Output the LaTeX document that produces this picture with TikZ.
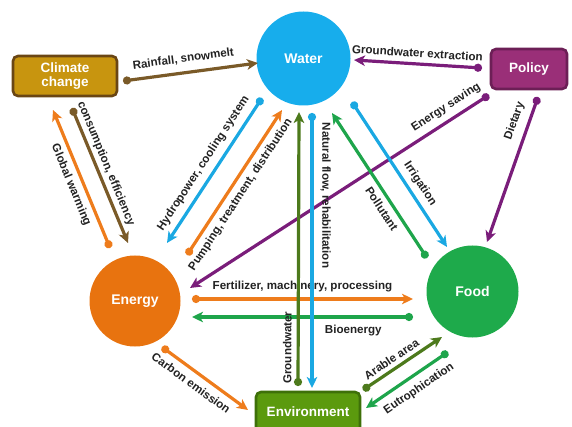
\documentclass[tikz,border=0pt]{standalone}
\usepackage{fontspec}
\setmainfont{Liberation Sans}
\usetikzlibrary{arrows.meta,calc}

\definecolor{waterc}{HTML}{17ADEC}
\definecolor{energyc}{HTML}{E8730F}
\definecolor{foodc}{HTML}{1EAA4B}
\definecolor{climfill}{HTML}{C8950F}
\definecolor{climdraw}{HTML}{6A4614}
\definecolor{polfill}{HTML}{9A2F78}
\definecolor{poldraw}{HTML}{6C1F56}
\definecolor{envfill}{HTML}{5B9A0E}
\definecolor{envdraw}{HTML}{3E7009}
\definecolor{lblue}{HTML}{1AA8E2}
\definecolor{lorange}{HTML}{EE7C1C}
\definecolor{lgreen}{HTML}{1EA54B}
\definecolor{lbrown}{HTML}{7A5A28}
\definecolor{lpurple}{HTML}{7A1D7A}
\definecolor{ldkgreen}{HTML}{4D7A1C}
\definecolor{labc}{HTML}{222222}

\begin{document}
\begin{tikzpicture}[x=1pt,y=-1pt,
  hub/.style={circle, inner sep=0pt, text=white,
    font=\fontsize{14}{16}\selectfont\bfseries},
  sector/.style={rectangle, rounded corners=5pt, line width=2.6pt, inner sep=0pt,
    text=white, align=center, font=\fontsize{13.5}{15}\selectfont\bfseries},
  link/.style={line width=3.2pt,
    {Circle[length=8pt]}-{Stealth[length=11pt,width=10.5pt,inset=3pt]}},
  lab/.style={sloped, inner sep=1pt, text=labc,
    font=\fontsize{11.6}{13}\selectfont\bfseries}]

\useasboundingbox (0,0) rectangle (572,427);
\clip (0,0) rectangle (572,427);

% sector nodes
\node[hub, fill=waterc, minimum size=94pt] (water) at (303.5,58.5) {Water};
\node[hub, fill=energyc, minimum size=91pt] (energy) at (135,301) {Energy};
\node[hub, fill=foodc, minimum size=92pt] (food) at (472.5,291.5) {Food};
\node[sector, fill=climfill, draw=climdraw, minimum width=104pt, minimum height=40pt]
  (climate) at (65,76) {Climate\\[-1pt]change};
\node[sector, fill=polfill, draw=poldraw, minimum width=76pt, minimum height=40pt]
  (policy) at (529,69) {Policy};
\node[sector, fill=envfill, draw=envdraw, minimum width=104pt, minimum height=40pt]
  (env) at (308,412) {Environment};

% climate and policy drivers
\draw[link, lbrown] ($(climate)+(58,5)$) -- node[lab, above=6pt, pos=0.46] {Rainfall, snowmelt} ($(water)+(-45.5,4.5)$);
\draw[link, lpurple] ($(policy)+(-47,-1)$) -- node[lab, above=4pt, pos=0.51] {Groundwater extraction} ($(water)+(50.5,1.5)$);
\draw[link, lpurple] ($(policy)+(9,28)$) -- node[lab, above=6pt, pos=0.2] {Dietary} ($(food)+(14.5,-49.5)$);
\draw[link, lbrown] ($(climate)+(7,32)$) -- node[lab, above=2pt, pos=0.44] {consumption, efficiency} ($(energy)+(-7,-58)$);
\draw[link, lorange] ($(energy)+(-25,-53)$) -- node[lab, below=4pt, pos=0.49] {Global warming} ($(climate)+(-12,34)$);

% energy -- water
\draw[link, lblue] ($(water)+(-41.5,39.5)$) -- node[lab, above=5pt, pos=0.5] {Hydropower, cooling system} ($(energy)+(32,-58)$);
\draw[link, lorange] ($(energy)+(52,-46)$) -- node[lab, below=4pt, pos=0.46] {Pumping, treatment, distribution} ($(water)+(-21.5,51.5)$);

% energy -- food
\draw[link, lorange] ($(energy)+(57,-2)$) -- node[lab, above=4pt, pos=0.5] {Fertilizer, machinery, processing} ($(food)+(-59.5,7.5)$);
\draw[link, lgreen] ($(food)+(-59.5,25.5)$) -- node[lab, below=5pt, pos=0.27] {Bioenergy} ($(energy)+(57,16)$);

% policy -- energy
\draw[link, lpurple] ($(policy)+(-40,26)$) -- node[lab, above=5pt, pos=0.12] {Energy saving} ($(energy)+(55,-13)$);

% water -- food
\draw[link, lgreen] ($(food)+(-45.5,-33.5)$) -- node[lab, below=4pt, pos=0.38] {Pollutant} ($(water)+(28.5,54.5)$);
\draw[link, lblue] ($(water)+(48.5,43.5)$) -- node[lab, above=4pt, pos=0.61] {Irrigation} ($(food)+(-25.5,-44.5)$);

% environment links
\draw[link, lorange] ($(energy)+(27,46)$) -- node[lab, below=5pt, pos=0.42] {Carbon emission} ($(env)+(-60,-2)$);
\draw[link, ldkgreen] ($(env)+(55,-22)$) -- node[lab, above=3pt, pos=0.43] {Arable area} ($(food)+(-30.5,45.5)$);
\draw[link, lgreen] ($(food)+(-24.5,60.5)$) -- node[lab, below=6pt, pos=0.45] {Eutrophication} ($(env)+(58,-4)$);
\draw[link, ldkgreen] ($(env)+(-10,-26)$) -- node[lab, above=4pt, pos=0.14] {Groundwater} ($(water)+(-4.5,53.5)$);
\draw[link, lblue] ($(water)+(8.5,54.5)$) -- node[lab, above=6pt, pos=0.3] {Natural flow, rehabilitation} ($(env)+(4,-24)$);

\end{tikzpicture}
\end{document}
